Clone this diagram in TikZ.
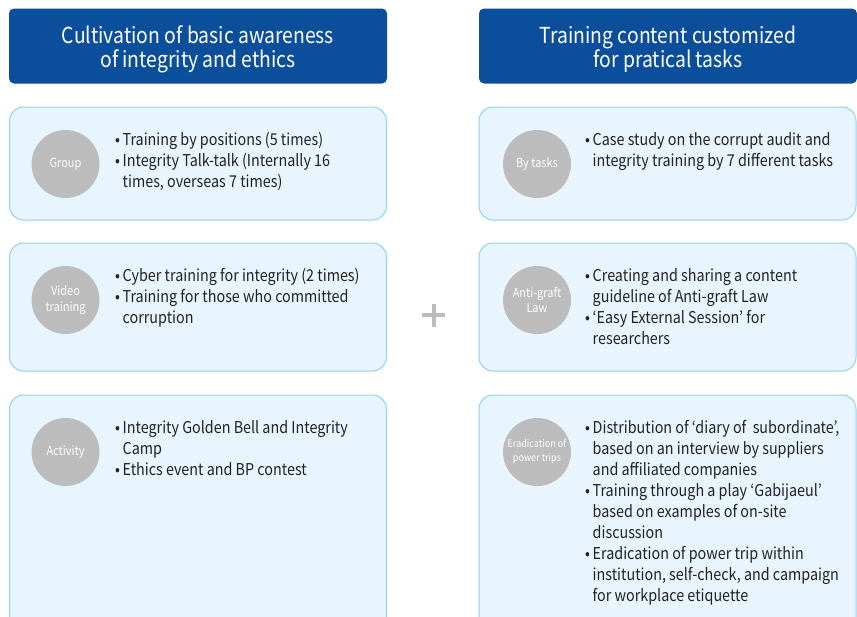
\documentclass[tikz,border=0pt]{standalone}
\usepackage{fontspec}
\setmainfont{Noto Sans CJK KR}[FakeStretch=0.88]
\usetikzlibrary{positioning}
\definecolor{headblue}{HTML}{0B4F9C}
\definecolor{panelfill}{HTML}{E9F5FE}
\definecolor{panelline}{HTML}{8ED2F3}
\definecolor{tagfill}{HTML}{BCBCBC}
\definecolor{bodyink}{HTML}{222222}
\newcommand{\bodyfont}{\fontsize{16.3}{21}\selectfont}
\newcommand{\itm}{\makebox[7.5pt][l]{\textbullet}}
\newcommand{\cnt}{\hspace*{7.5pt}}
\begin{document}
\begin{tikzpicture}[x=1pt, y=-1pt,
  head/.style={rectangle, rounded corners=5pt, fill=headblue, minimum width=378pt, minimum height=75pt},
  headtext/.style={text=white, align=center, inner sep=0pt, font=\fontsize{22}{24}\selectfont},
  panel/.style={rectangle, rounded corners=14pt, draw=panelline, line width=1pt, fill=panelfill, minimum width=377pt},
  tag/.style={circle, fill=tagfill, text=white, align=center, minimum size=68pt, inner sep=0pt, font=\fontsize{12.5}{15.5}\selectfont},
  body/.style={anchor=base west, inner sep=0pt, text=bodyink, font=\bodyfont}]
\useasboundingbox (0,0) rectangle (857,616);
% column headers
\node[head] (hleft) at (198,46) {};
\node[head] (hright) at (668,46) {};
\node[headtext] (hlefttext) at (198,49) {Cultivation of basic awareness\\of integrity and ethics};
\node[headtext] (hrighttext) at (668,49) {Training content customized\\for pratical tasks};
% left column
\node[panel, minimum height=113pt] (pgroup) at (198,163.5) {};
\node[panel, minimum height=128pt] (pvideo) at (198,307) {};
\node[panel, minimum height=245pt] (pact) at (198,517.5) {};
\node[tag] (tgroup) at (65.5,164) {Group};
\node[tag] (tvideo) at (65.5,300) {Video\\training};
\node[tag] (tact) at (65.5,452) {Activity};
\node[body] (bgroup) at (115,145.7) {\begin{tabular}[t]{@{}l@{}}
  \itm Training by positions (5 times)\\
  \itm Integrity Talk-talk (Internally 16\\
  \cnt times, overseas 7 times)\end{tabular}};
\node[body] (bvideo) at (115,281.7) {\begin{tabular}[t]{@{}l@{}}
  \itm Cyber training for integrity (2 times)\\
  \itm Training for those who committed\\
  \cnt corruption\end{tabular}};
\node[body] (bact) at (115,433) {\begin{tabular}[t]{@{}l@{}}
  \itm Integrity Golden Bell and Integrity\\
  \cnt Camp\\
  \itm Ethics event and BP contest\end{tabular}};
% right column
\node[panel, minimum height=113pt] (ptask) at (667.5,163.5) {};
\node[panel, minimum height=128pt] (plaw) at (667.5,307) {};
\node[panel, minimum height=245pt] (ppower) at (667.5,517.5) {};
\node[tag] (ttask) at (537,164) {By tasks};
\node[tag] (tlaw) at (537,300) {Anti-graft\\Law};
\node[tag, font=\fontsize{10.3}{14}\selectfont] (tpower) at (537,452) {Eradication of\\power trips};
\node[body] (btask) at (585,145.7) {\begin{tabular}[t]{@{}l@{}}
  \itm Case study on the corrupt audit and\\
  \cnt integrity training by 7 different tasks\end{tabular}};
\node[body] (blaw) at (585,281.7) {\begin{tabular}[t]{@{}l@{}}
  \itm Creating and sharing a content\\
  \cnt guideline of Anti-graft Law\\
  \itm `Easy External Session' for\\
  \cnt researchers\end{tabular}};
\node[body] (bpower) at (585,433) {\begin{tabular}[t]{@{}l@{}}
  \itm Distribution of `diary of~~subordinate',\\
  \cnt based on an interview by suppliers\\
  \cnt and affiliated companies\\
  \itm Training through a play `Gabijaeul'\\
  \cnt based on examples of on-site\\
  \cnt discussion\\
  \itm Eradication of power trip within\\
  \cnt institution, self-check, and campaign\\
  \cnt for workplace etiquette\end{tabular}};
% plus sign between the columns
\draw[tagfill, line width=4pt] (422,315) -- (445,315) (433.5,304) -- (433.5,327);
\end{tikzpicture}
\end{document}
